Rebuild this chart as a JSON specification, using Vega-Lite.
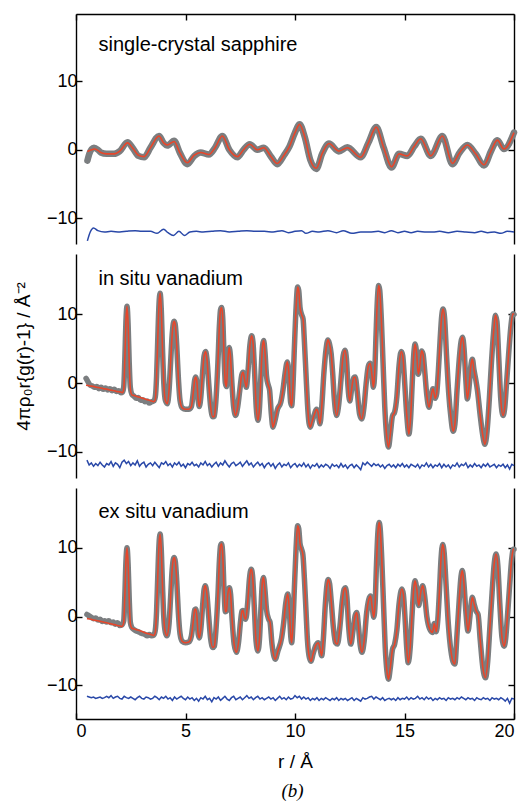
{
  "$schema": "https://vega.github.io/schema/vega-lite/v6.json",
  "padding": {"left": 13, "top": 13, "right": 5, "bottom": 0},
  "spacing": 10,
  "title": {"text": "(b)", "orient": "bottom", "font": "Liberation Serif", "fontSize": 19, "fontStyle": "italic", "fontWeight": "normal", "color": "black", "anchor": "middle", "offset": 11, "dx": 22},
  "config": {
    "view": {"stroke": null},
    "font": "Liberation Sans",
    "axis": {"domainColor": "black", "tickColor": "black", "domainWidth": 1.4, "tickWidth": 1.4, "grid": false, "labelFont": "Liberation Sans", "labelFontSize": 18, "labelColor": "black", "titleFont": "Liberation Sans", "titleFontSize": 19, "titleFontWeight": "normal", "titleColor": "black"}
  },
  "datasets": {
    "sap": [
      {"r":0.52,"obs":-1.6,"fit":-0.25},{"r":0.62,"obs":-0.5,"fit":-0.1},{"r":0.72,"obs":0.1,"fit":0.0},{"r":0.82,"obs":0.3,"fit":0.1},
      {"r":1.0,"obs":0.0,"fit":-0.1},{"r":1.13,"obs":-0.4,"fit":-0.4},{"r":1.4,"obs":-0.6,"fit":-0.6},{"r":1.74,"obs":-0.6,"fit":-0.6},
      {"r":2.0,"obs":-0.2,"fit":-0.2},{"r":2.35,"obs":1.1,"fit":1.0},{"r":2.6,"obs":0.2,"fit":0.2},{"r":2.85,"obs":-0.9,"fit":-0.8},
      {"r":3.11,"obs":-1.1,"fit":-1.0},{"r":3.4,"obs":0.3,"fit":0.3},{"r":3.79,"obs":2.0,"fit":2.0},{"r":4.0,"obs":1.0,"fit":1.0},
      {"r":4.17,"obs":0.6,"fit":0.7},{"r":4.48,"obs":1.3,"fit":1.2},{"r":4.75,"obs":-0.5,"fit":-0.5},{"r":5.08,"obs":-2.1,"fit":-1.9},
      {"r":5.4,"obs":-0.9,"fit":-0.8},{"r":5.69,"obs":-0.4,"fit":-0.4},{"r":6.07,"obs":-0.7,"fit":-0.7},{"r":6.35,"obs":0.3,"fit":0.3},
      {"r":6.68,"obs":2.0,"fit":2.0},{"r":7.0,"obs":0.0,"fit":0.0},{"r":7.37,"obs":-1.1,"fit":-1.0},{"r":7.65,"obs":0.0,"fit":0.0},
      {"r":7.93,"obs":0.8,"fit":0.8},{"r":8.28,"obs":0.0,"fit":0.0},{"r":8.58,"obs":0.3,"fit":0.3},{"r":8.9,"obs":-1.0,"fit":-1.0},
      {"r":9.19,"obs":-2.1,"fit":-2.0},{"r":9.5,"obs":-0.8,"fit":-0.8},{"r":9.75,"obs":0.5,"fit":0.5},{"r":10.0,"obs":2.5,"fit":2.5},
      {"r":10.21,"obs":3.7,"fit":3.7},{"r":10.45,"obs":1.8,"fit":1.8},{"r":10.7,"obs":-1.5,"fit":-1.5},{"r":10.97,"obs":-2.8,"fit":-2.7},
      {"r":11.25,"obs":-0.5,"fit":-0.5},{"r":11.55,"obs":0.9,"fit":0.9},{"r":12.0,"obs":-0.25,"fit":-0.2},{"r":12.39,"obs":0.35,"fit":0.3},
      {"r":13.0,"obs":-1.1,"fit":-1.1},{"r":13.35,"obs":1.0,"fit":1.0},{"r":13.71,"obs":3.3,"fit":3.3},{"r":14.05,"obs":0.3,"fit":0.3},
      {"r":14.41,"obs":-2.6,"fit":-2.5},{"r":14.75,"obs":-0.6,"fit":-0.6},{"r":15.13,"obs":-0.9,"fit":-0.9},{"r":15.45,"obs":0.5,"fit":0.5},
      {"r":15.74,"obs":1.6,"fit":1.6},{"r":16.2,"obs":-0.9,"fit":-0.9},{"r":16.73,"obs":2.0,"fit":2.0},{"r":17.19,"obs":-2.1,"fit":-2.0},
      {"r":17.5,"obs":-0.5,"fit":-0.5},{"r":17.87,"obs":0.7,"fit":0.7},{"r":18.25,"obs":-0.6,"fit":-0.6},{"r":18.63,"obs":-2.3,"fit":-2.2},
      {"r":18.95,"obs":-0.2,"fit":-0.2},{"r":19.24,"obs":1.4,"fit":1.4},{"r":19.54,"obs":0.1,"fit":0.1},{"r":20.0,"obs":2.5,"fit":2.5}
    ],
    "sapdiff": [
      {"r":0.52,"diff":-13.3},{"r":0.65,"diff":-12.0},{"r":0.8,"diff":-11.4},{"r":1.0,"diff":-11.8},{"r":1.3,"diff":-12.0},{"r":1.6,"diff":-11.9},
      {"r":2.0,"diff":-12.0},{"r":2.3,"diff":-11.9},{"r":2.7,"diff":-11.8},{"r":3.0,"diff":-11.9},{"r":3.4,"diff":-11.9},{"r":3.7,"diff":-12.2},
      {"r":4.0,"diff":-11.6},{"r":4.2,"diff":-12.1},{"r":4.45,"diff":-12.5},{"r":4.7,"diff":-11.9},{"r":4.95,"diff":-12.5},{"r":5.2,"diff":-12.0},
      {"r":5.5,"diff":-11.9},{"r":5.8,"diff":-12.0},{"r":6.2,"diff":-11.9},{"r":6.6,"diff":-11.8},{"r":7.0,"diff":-12.0},{"r":7.4,"diff":-11.9},
      {"r":7.8,"diff":-11.8},{"r":8.2,"diff":-11.9},{"r":8.6,"diff":-11.9},{"r":9.0,"diff":-12.0},{"r":9.4,"diff":-11.8},{"r":9.7,"diff":-12.1},
      {"r":10.0,"diff":-11.9},{"r":10.3,"diff":-11.8},{"r":10.5,"diff":-12.2},{"r":10.8,"diff":-11.9},{"r":11.1,"diff":-12.0},{"r":11.5,"diff":-11.8},
      {"r":11.9,"diff":-12.1},{"r":12.2,"diff":-11.8},{"r":12.6,"diff":-12.2},{"r":13.0,"diff":-12.0},{"r":13.4,"diff":-12.0},{"r":13.8,"diff":-11.9},
      {"r":14.1,"diff":-12.1},{"r":14.4,"diff":-11.8},{"r":14.7,"diff":-12.1},{"r":15.0,"diff":-11.9},{"r":15.3,"diff":-12.1},{"r":15.6,"diff":-11.9},
      {"r":16.0,"diff":-12.0},{"r":16.3,"diff":-12.0},{"r":16.6,"diff":-11.9},{"r":17.0,"diff":-12.1},{"r":17.4,"diff":-11.9},{"r":17.8,"diff":-12.0},
      {"r":18.2,"diff":-12.1},{"r":18.5,"diff":-11.9},{"r":18.8,"diff":-12.1},{"r":19.1,"diff":-12.0},{"r":19.4,"diff":-12.2},{"r":19.7,"diff":-11.9},{"r":20.0,"diff":-12.0}
    ],
    "insitu": [
      {"r":0.46,"obs":0.7,"fit":-0.3},{"r":0.55,"obs":0.2,"fit":-0.35},{"r":0.65,"obs":-0.3,"fit":-0.4},{"r":0.75,"obs":-0.4,"fit":-0.45},
      {"r":0.85,"obs":-0.6,"fit":-0.5},{"r":0.95,"obs":-0.5,"fit":-0.6},{"r":1.05,"obs":-0.8,"fit":-0.65},{"r":1.15,"obs":-0.6,"fit":-0.7},
      {"r":1.25,"obs":-0.9,"fit":-0.8},{"r":1.35,"obs":-0.7,"fit":-0.85},{"r":1.45,"obs":-1.0,"fit":-0.9},{"r":1.55,"obs":-0.8,"fit":-1.0},
      {"r":1.65,"obs":-1.1,"fit":-1.05},{"r":1.75,"obs":-0.9,"fit":-1.1},{"r":1.85,"obs":-1.2,"fit":-1.2},{"r":1.95,"obs":-1.1,"fit":-1.25},
      {"r":2.05,"obs":-1.4,"fit":-1.3},{"r":2.12,"obs":-1.3,"fit":-1.4},{"r":2.18,"obs":-0.5,"fit":-0.9},{"r":2.23,"obs":3.5,"fit":3.5},
      {"r":2.28,"obs":9.0,"fit":9.0},{"r":2.33,"obs":11.2,"fit":11.2},{"r":2.38,"obs":8.5,"fit":8.5},{"r":2.43,"obs":3.0,"fit":3.0},
      {"r":2.48,"obs":-0.6,"fit":-0.8},{"r":2.55,"obs":-1.6,"fit":-1.7},{"r":2.65,"obs":-1.9,"fit":-1.8},{"r":2.75,"obs":-2.2,"fit":-1.9},
      {"r":2.85,"obs":-2.1,"fit":-2.0},{"r":2.95,"obs":-2.5,"fit":-2.1},{"r":3.05,"obs":-2.4,"fit":-2.2},{"r":3.15,"obs":-2.7,"fit":-2.3},
      {"r":3.25,"obs":-2.6,"fit":-2.4},{"r":3.35,"obs":-2.9,"fit":-2.5},{"r":3.45,"obs":-2.7,"fit":-2.6},{"r":3.55,"obs":-2.6,"fit":-2.7},
      {"r":3.62,"obs":-2.0,"fit":-2.4},{"r":3.68,"obs":1.0,"fit":1.0},{"r":3.73,"obs":6.0,"fit":6.0},{"r":3.79,"obs":11.5,"fit":11.5},
      {"r":3.84,"obs":13.1,"fit":13.1},{"r":3.89,"obs":11.0,"fit":11.0},{"r":3.95,"obs":5.0,"fit":5.0},{"r":4.01,"obs":0.0,"fit":0.0},
      {"r":4.08,"obs":-2.5,"fit":-2.5},{"r":4.17,"obs":-3.0,"fit":-3.0},{"r":4.25,"obs":-1.0,"fit":-1.0},{"r":4.32,"obs":3.0,"fit":3.0},
      {"r":4.39,"obs":7.0,"fit":7.0},{"r":4.45,"obs":8.8,"fit":8.8},{"r":4.49,"obs":9.0,"fit":9.0},{"r":4.54,"obs":8.3,"fit":8.3},
      {"r":4.6,"obs":5.5,"fit":5.5},{"r":4.67,"obs":1.0,"fit":1.0},{"r":4.75,"obs":-2.5,"fit":-2.5},{"r":4.85,"obs":-3.6,"fit":-3.6},
      {"r":5.0,"obs":-3.8,"fit":-3.8},{"r":5.15,"obs":-3.8,"fit":-3.8},{"r":5.27,"obs":-3.4,"fit":-3.4},{"r":5.35,"obs":-1.5,"fit":-1.5},
      {"r":5.42,"obs":0.5,"fit":0.5},{"r":5.47,"obs":0.9,"fit":0.9},{"r":5.52,"obs":0.2,"fit":0.2},{"r":5.58,"obs":-2.5,"fit":-2.5},
      {"r":5.63,"obs":-3.4,"fit":-3.4},{"r":5.7,"obs":-2.0,"fit":-2.0},{"r":5.78,"obs":1.5,"fit":1.5},{"r":5.85,"obs":4.0,"fit":4.0},
      {"r":5.92,"obs":4.6,"fit":4.6},{"r":5.98,"obs":3.5,"fit":3.5},{"r":6.06,"obs":0.0,"fit":0.0},{"r":6.15,"obs":-3.5,"fit":-3.5},
      {"r":6.25,"obs":-4.9,"fit":-4.9},{"r":6.32,"obs":-4.8,"fit":-4.8},{"r":6.4,"obs":-2.0,"fit":-2.0},{"r":6.48,"obs":3.0,"fit":3.0},
      {"r":6.55,"obs":8.5,"fit":8.5},{"r":6.6,"obs":10.7,"fit":10.7},{"r":6.65,"obs":11.0,"fit":11.0},{"r":6.7,"obs":9.5,"fit":9.5},
      {"r":6.76,"obs":4.0,"fit":4.0},{"r":6.82,"obs":0.0,"fit":0.0},{"r":6.87,"obs":-0.5,"fit":-0.5},{"r":6.93,"obs":3.0,"fit":3.0},
      {"r":6.99,"obs":5.2,"fit":5.2},{"r":7.05,"obs":4.0,"fit":4.0},{"r":7.12,"obs":0.0,"fit":0.0},{"r":7.2,"obs":-3.5,"fit":-3.5},
      {"r":7.29,"obs":-4.7,"fit":-4.7},{"r":7.38,"obs":-3.5,"fit":-3.5},{"r":7.48,"obs":-1.0,"fit":-1.0},{"r":7.57,"obs":1.2,"fit":1.2},
      {"r":7.63,"obs":1.6,"fit":1.6},{"r":7.7,"obs":0.5,"fit":0.5},{"r":7.78,"obs":-0.6,"fit":-0.6},{"r":7.86,"obs":2.0,"fit":2.0},
      {"r":7.94,"obs":5.5,"fit":5.5},{"r":8.02,"obs":6.9,"fit":6.9},{"r":8.08,"obs":6.0,"fit":6.0},{"r":8.15,"obs":2.0,"fit":2.0},
      {"r":8.23,"obs":-3.5,"fit":-3.5},{"r":8.31,"obs":-5.4,"fit":-5.4},{"r":8.38,"obs":-3.5,"fit":-3.5},{"r":8.45,"obs":1.5,"fit":1.5},
      {"r":8.52,"obs":5.5,"fit":5.5},{"r":8.57,"obs":6.2,"fit":6.2},{"r":8.63,"obs":4.5,"fit":4.5},{"r":8.7,"obs":1.0,"fit":1.0},
      {"r":8.78,"obs":-0.3,"fit":-0.3},{"r":8.84,"obs":-1.0,"fit":-1.0},{"r":8.92,"obs":-4.5,"fit":-4.5},{"r":8.99,"obs":-6.4,"fit":-6.4},
      {"r":9.08,"obs":-5.5,"fit":-5.5},{"r":9.2,"obs":-3.8,"fit":-3.8},{"r":9.35,"obs":-2.8,"fit":-2.8},{"r":9.45,"obs":-1.0,"fit":-1.0},
      {"r":9.55,"obs":1.5,"fit":1.5},{"r":9.65,"obs":3.1,"fit":3.1},{"r":9.72,"obs":1.5,"fit":1.5},{"r":9.8,"obs":-2.8,"fit":-2.8},
      {"r":9.85,"obs":-3.3,"fit":-3.3},{"r":9.9,"obs":-1.0,"fit":-1.0},{"r":9.97,"obs":5.0,"fit":5.0},{"r":10.05,"obs":11.0,"fit":11.0},
      {"r":10.12,"obs":14.0,"fit":14.0},{"r":10.17,"obs":13.5,"fit":13.5},{"r":10.23,"obs":11.0,"fit":11.0},{"r":10.3,"obs":10.0,"fit":10.0},
      {"r":10.37,"obs":9.3,"fit":9.3},{"r":10.43,"obs":6.0,"fit":6.0},{"r":10.5,"obs":1.5,"fit":1.5},{"r":10.57,"obs":-3.0,"fit":-3.0},
      {"r":10.64,"obs":-5.8,"fit":-5.8},{"r":10.7,"obs":-6.4,"fit":-6.4},{"r":10.78,"obs":-5.6,"fit":-5.6},{"r":10.9,"obs":-4.4,"fit":-4.4},
      {"r":10.98,"obs":-3.8,"fit":-3.8},{"r":11.05,"obs":-4.2,"fit":-4.2},{"r":11.14,"obs":-5.9,"fit":-5.9},{"r":11.22,"obs":-3.5,"fit":-3.5},
      {"r":11.32,"obs":1.5,"fit":1.5},{"r":11.42,"obs":5.0,"fit":5.0},{"r":11.5,"obs":6.3,"fit":6.3},{"r":11.57,"obs":5.8,"fit":5.8},
      {"r":11.65,"obs":4.3,"fit":4.3},{"r":11.72,"obs":1.5,"fit":1.5},{"r":11.8,"obs":-2.5,"fit":-2.5},{"r":11.9,"obs":-4.7,"fit":-4.7},
      {"r":12.0,"obs":-3.0,"fit":-3.0},{"r":12.1,"obs":0.5,"fit":0.5},{"r":12.2,"obs":4.0,"fit":4.0},{"r":12.28,"obs":4.8,"fit":4.8},
      {"r":12.35,"obs":3.5,"fit":3.5},{"r":12.42,"obs":-0.5,"fit":-0.5},{"r":12.5,"obs":-2.6,"fit":-2.6},{"r":12.58,"obs":-1.0,"fit":-1.0},
      {"r":12.68,"obs":0.8,"fit":0.8},{"r":12.75,"obs":0.9,"fit":0.9},{"r":12.85,"obs":-1.5,"fit":-1.5},{"r":12.95,"obs":-4.5,"fit":-4.5},
      {"r":13.05,"obs":-5.2,"fit":-5.2},{"r":13.15,"obs":-3.5,"fit":-3.5},{"r":13.25,"obs":0.0,"fit":0.0},{"r":13.35,"obs":2.5,"fit":2.5},
      {"r":13.43,"obs":2.9,"fit":2.9},{"r":13.52,"obs":1.0,"fit":1.0},{"r":13.58,"obs":-0.6,"fit":-0.6},{"r":13.64,"obs":1.5,"fit":1.5},
      {"r":13.7,"obs":7.0,"fit":7.0},{"r":13.76,"obs":12.0,"fit":12.0},{"r":13.82,"obs":14.2,"fit":14.2},{"r":13.87,"obs":13.5,"fit":13.5},
      {"r":13.94,"obs":9.5,"fit":9.5},{"r":14.02,"obs":3.0,"fit":3.0},{"r":14.1,"obs":-3.5,"fit":-3.5},{"r":14.18,"obs":-7.5,"fit":-7.5},
      {"r":14.27,"obs":-9.3,"fit":-9.3},{"r":14.35,"obs":-7.5,"fit":-7.5},{"r":14.45,"obs":-4.8,"fit":-4.8},{"r":14.55,"obs":-4.2,"fit":-4.2},
      {"r":14.65,"obs":-2.0,"fit":-2.0},{"r":14.75,"obs":2.5,"fit":2.5},{"r":14.85,"obs":4.6,"fit":4.6},{"r":14.92,"obs":4.0,"fit":4.0},
      {"r":15.0,"obs":0.5,"fit":0.5},{"r":15.1,"obs":-4.5,"fit":-4.5},{"r":15.2,"obs":-7.4,"fit":-7.4},{"r":15.28,"obs":-5.0,"fit":-5.0},
      {"r":15.36,"obs":0.5,"fit":0.5},{"r":15.43,"obs":4.5,"fit":4.5},{"r":15.48,"obs":5.7,"fit":5.7},{"r":15.55,"obs":4.5,"fit":4.5},
      {"r":15.63,"obs":1.3,"fit":1.3},{"r":15.7,"obs":2.5,"fit":2.5},{"r":15.78,"obs":4.7,"fit":4.7},{"r":15.85,"obs":4.2,"fit":4.2},
      {"r":15.93,"obs":1.5,"fit":1.5},{"r":16.02,"obs":-1.8,"fit":-1.8},{"r":16.12,"obs":-3.5,"fit":-3.5},{"r":16.22,"obs":-1.8,"fit":-1.8},
      {"r":16.3,"obs":-0.8,"fit":-0.8},{"r":16.4,"obs":-2.2,"fit":-2.2},{"r":16.47,"obs":-1.5,"fit":-1.5},{"r":16.55,"obs":2.0,"fit":2.0},
      {"r":16.63,"obs":6.5,"fit":6.5},{"r":16.7,"obs":9.8,"fit":9.8},{"r":16.76,"obs":10.8,"fit":10.8},{"r":16.83,"obs":9.5,"fit":9.5},
      {"r":16.92,"obs":4.0,"fit":4.0},{"r":17.02,"obs":-1.5,"fit":-1.5},{"r":17.12,"obs":-5.0,"fit":-5.0},{"r":17.22,"obs":-7.0,"fit":-7.0},
      {"r":17.3,"obs":-6.0,"fit":-6.0},{"r":17.4,"obs":-1.0,"fit":-1.0},{"r":17.5,"obs":3.5,"fit":3.5},{"r":17.58,"obs":6.0,"fit":6.0},
      {"r":17.65,"obs":6.7,"fit":6.7},{"r":17.72,"obs":5.0,"fit":5.0},{"r":17.8,"obs":0.5,"fit":0.5},{"r":17.87,"obs":-2.3,"fit":-2.3},
      {"r":17.95,"obs":-0.5,"fit":-0.5},{"r":18.03,"obs":2.5,"fit":2.5},{"r":18.1,"obs":3.5,"fit":3.5},{"r":18.17,"obs":2.0,"fit":2.0},
      {"r":18.25,"obs":0.6,"fit":0.6},{"r":18.33,"obs":-1.0,"fit":-1.0},{"r":18.45,"obs":-4.5,"fit":-4.5},{"r":18.57,"obs":-7.5,"fit":-7.5},
      {"r":18.67,"obs":-8.9,"fit":-8.9},{"r":18.77,"obs":-7.0,"fit":-7.0},{"r":18.87,"obs":-2.5,"fit":-2.5},{"r":18.97,"obs":3.0,"fit":3.0},
      {"r":19.07,"obs":7.5,"fit":7.5},{"r":19.15,"obs":9.9,"fit":9.9},{"r":19.22,"obs":9.0,"fit":9.0},{"r":19.3,"obs":4.0,"fit":4.0},
      {"r":19.4,"obs":-2.5,"fit":-2.5},{"r":19.5,"obs":-4.7,"fit":-4.7},{"r":19.58,"obs":-3.5,"fit":-3.5},{"r":19.66,"obs":0.0,"fit":0.0},
      {"r":19.75,"obs":4.0,"fit":4.0},{"r":19.85,"obs":8.0,"fit":8.0},{"r":19.95,"obs":10.1,"fit":10.1},{"r":20.0,"obs":10.0,"fit":10.0}
    ],
    "insitudiff": [
      {"r":0.5,"diff":-11.2},{"r":0.6,"diff":-11.9},{"r":0.7,"diff":-11.6},{"r":0.8,"diff":-12.1},{"r":0.9,"diff":-11.7},{"r":1.0,"diff":-12.0},{"r":1.1,"diff":-11.5},{"r":1.2,"diff":-11.9},{"r":1.3,"diff":-12.2},{"r":1.4,"diff":-11.7},
      {"r":1.5,"diff":-11.9},{"r":1.6,"diff":-11.4},{"r":1.7,"diff":-12.1},{"r":1.8,"diff":-11.6},{"r":1.9,"diff":-11.8},{"r":2.0,"diff":-12.3},{"r":2.1,"diff":-11.5},{"r":2.2,"diff":-11.2},{"r":2.3,"diff":-11.7},{"r":2.4,"diff":-11.4},
      {"r":2.5,"diff":-12.0},{"r":2.6,"diff":-11.6},{"r":2.7,"diff":-11.9},{"r":2.8,"diff":-11.3},{"r":2.9,"diff":-12.1},{"r":3.0,"diff":-11.7},{"r":3.1,"diff":-11.5},{"r":3.2,"diff":-12.2},{"r":3.3,"diff":-11.8},{"r":3.4,"diff":-11.6},
      {"r":3.5,"diff":-12.0},{"r":3.6,"diff":-11.5},{"r":3.7,"diff":-11.9},{"r":3.8,"diff":-12.3},{"r":3.9,"diff":-11.6},{"r":4.0,"diff":-11.8},{"r":4.1,"diff":-11.4},{"r":4.2,"diff":-12.0},{"r":4.3,"diff":-11.7},{"r":4.4,"diff":-12.2},
      {"r":4.5,"diff":-11.6},{"r":4.6,"diff":-11.9},{"r":4.7,"diff":-11.5},{"r":4.8,"diff":-12.1},{"r":4.9,"diff":-11.8},{"r":5.0,"diff":-12.3},{"r":5.1,"diff":-11.7},{"r":5.2,"diff":-11.9},{"r":5.3,"diff":-11.5},{"r":5.4,"diff":-12.0},
      {"r":5.5,"diff":-11.8},{"r":5.6,"diff":-12.2},{"r":5.7,"diff":-11.6},{"r":5.8,"diff":-11.9},{"r":5.9,"diff":-11.4},{"r":6.0,"diff":-12.0},{"r":6.1,"diff":-11.7},{"r":6.2,"diff":-12.2},{"r":6.3,"diff":-11.8},{"r":6.4,"diff":-11.5},
      {"r":6.5,"diff":-12.1},{"r":6.6,"diff":-11.6},{"r":6.7,"diff":-11.9},{"r":6.8,"diff":-11.3},{"r":6.9,"diff":-11.8},{"r":7.0,"diff":-12.2},{"r":7.1,"diff":-11.7},{"r":7.2,"diff":-11.5},{"r":7.3,"diff":-12.0},{"r":7.4,"diff":-11.8},
      {"r":7.5,"diff":-11.5},{"r":7.6,"diff":-12.1},{"r":7.7,"diff":-11.7},{"r":7.8,"diff":-11.3},{"r":7.9,"diff":-11.9},{"r":8.0,"diff":-11.6},{"r":8.1,"diff":-12.2},{"r":8.2,"diff":-11.8},{"r":8.3,"diff":-11.5},{"r":8.4,"diff":-12.0},
      {"r":8.5,"diff":-11.7},{"r":8.6,"diff":-12.3},{"r":8.7,"diff":-11.8},{"r":8.8,"diff":-11.6},{"r":8.9,"diff":-12.1},{"r":9.0,"diff":-11.7},{"r":9.1,"diff":-12.4},{"r":9.2,"diff":-11.9},{"r":9.3,"diff":-11.6},{"r":9.4,"diff":-12.2},
      {"r":9.5,"diff":-11.8},{"r":9.6,"diff":-12.0},{"r":9.7,"diff":-11.6},{"r":9.8,"diff":-12.3},{"r":9.9,"diff":-11.9},{"r":10.0,"diff":-11.7},{"r":10.1,"diff":-12.2},{"r":10.2,"diff":-11.8},{"r":10.3,"diff":-12.1},{"r":10.4,"diff":-11.6},
      {"r":10.5,"diff":-12.2},{"r":10.6,"diff":-11.8},{"r":10.7,"diff":-12.4},{"r":10.8,"diff":-11.9},{"r":10.9,"diff":-12.1},{"r":11.0,"diff":-11.7},{"r":11.1,"diff":-12.3},{"r":11.2,"diff":-11.9},{"r":11.3,"diff":-12.2},{"r":11.4,"diff":-11.8},
      {"r":11.5,"diff":-12.0},{"r":11.6,"diff":-12.4},{"r":11.7,"diff":-11.8},{"r":11.8,"diff":-12.1},{"r":11.9,"diff":-11.9},{"r":12.0,"diff":-12.3},{"r":12.1,"diff":-11.7},{"r":12.2,"diff":-12.2},{"r":12.3,"diff":-11.9},{"r":12.4,"diff":-12.4},
      {"r":12.5,"diff":-12.0},{"r":12.6,"diff":-11.8},{"r":12.7,"diff":-12.3},{"r":12.8,"diff":-11.9},{"r":12.9,"diff":-12.2},{"r":13.0,"diff":-12.6},{"r":13.1,"diff":-11.6},{"r":13.2,"diff":-11.9},{"r":13.3,"diff":-11.5},{"r":13.4,"diff":-11.8},
      {"r":13.5,"diff":-12.1},{"r":13.6,"diff":-11.7},{"r":13.7,"diff":-12.0},{"r":13.8,"diff":-11.8},{"r":13.9,"diff":-12.2},{"r":14.0,"diff":-11.9},{"r":14.1,"diff":-12.4},{"r":14.2,"diff":-12.0},{"r":14.3,"diff":-11.8},{"r":14.4,"diff":-12.2},
      {"r":14.5,"diff":-11.9},{"r":14.6,"diff":-12.3},{"r":14.7,"diff":-11.8},{"r":14.8,"diff":-12.1},{"r":14.9,"diff":-11.7},{"r":15.0,"diff":-12.2},{"r":15.1,"diff":-11.9},{"r":15.2,"diff":-12.3},{"r":15.3,"diff":-11.8},{"r":15.4,"diff":-12.0},
      {"r":15.5,"diff":-12.2},{"r":15.6,"diff":-11.8},{"r":15.7,"diff":-12.4},{"r":15.8,"diff":-11.9},{"r":15.9,"diff":-12.1},{"r":16.0,"diff":-11.6},{"r":16.1,"diff":-12.2},{"r":16.2,"diff":-11.8},{"r":16.3,"diff":-12.3},{"r":16.4,"diff":-11.9},
      {"r":16.5,"diff":-12.1},{"r":16.6,"diff":-11.7},{"r":16.7,"diff":-12.3},{"r":16.8,"diff":-11.8},{"r":16.9,"diff":-12.2},{"r":17.0,"diff":-11.9},{"r":17.1,"diff":-12.4},{"r":17.2,"diff":-11.9},{"r":17.3,"diff":-12.1},{"r":17.4,"diff":-11.6},
      {"r":17.5,"diff":-12.2},{"r":17.6,"diff":-11.8},{"r":17.7,"diff":-12.0},{"r":17.8,"diff":-11.6},{"r":17.9,"diff":-12.3},{"r":18.0,"diff":-11.9},{"r":18.1,"diff":-12.2},{"r":18.2,"diff":-11.7},{"r":18.3,"diff":-12.1},{"r":18.4,"diff":-11.9},
      {"r":18.5,"diff":-12.3},{"r":18.6,"diff":-11.8},{"r":18.7,"diff":-12.1},{"r":18.8,"diff":-11.7},{"r":18.9,"diff":-12.2},{"r":19.0,"diff":-12.0},{"r":19.1,"diff":-11.8},{"r":19.2,"diff":-12.3},{"r":19.3,"diff":-11.9},{"r":19.4,"diff":-12.1},
      {"r":19.5,"diff":-11.8},{"r":19.6,"diff":-12.3},{"r":19.7,"diff":-11.9},{"r":19.8,"diff":-12.5},{"r":19.9,"diff":-11.8},{"r":20.0,"diff":-12.0}
    ],
    "exsitu": [
      {"r":0.5,"obs":0.3,"fit":-0.3},{"r":0.6,"obs":0.1,"fit":-0.35},{"r":0.7,"obs":-0.1,"fit":-0.4},{"r":0.8,"obs":-0.3,"fit":-0.5},
      {"r":0.9,"obs":-0.2,"fit":-0.55},{"r":1.0,"obs":-0.5,"fit":-0.6},{"r":1.1,"obs":-0.4,"fit":-0.7},{"r":1.2,"obs":-0.7,"fit":-0.75},
      {"r":1.3,"obs":-0.6,"fit":-0.85},{"r":1.4,"obs":-0.8,"fit":-0.9},{"r":1.5,"obs":-0.6,"fit":-1.0},{"r":1.6,"obs":-0.9,"fit":-1.05},
      {"r":1.7,"obs":-0.8,"fit":-1.15},{"r":1.8,"obs":-1.1,"fit":-1.2},{"r":1.9,"obs":-0.9,"fit":-1.3},{"r":2.0,"obs":-1.3,"fit":-1.35},
      {"r":2.1,"obs":-1.2,"fit":-1.45},{"r":2.18,"obs":-0.6,"fit":-0.8},{"r":2.23,"obs":3.0,"fit":3.0},{"r":2.28,"obs":8.0,"fit":8.0},
      {"r":2.33,"obs":10.0,"fit":10.0},{"r":2.38,"obs":7.6,"fit":7.6},{"r":2.43,"obs":2.6,"fit":2.6},{"r":2.48,"obs":-0.8,"fit":-1.0},
      {"r":2.55,"obs":-1.6,"fit":-1.7},{"r":2.65,"obs":-1.9,"fit":-1.8},{"r":2.75,"obs":-2.1,"fit":-1.9},{"r":2.85,"obs":-2.2,"fit":-2.0},
      {"r":2.95,"obs":-2.4,"fit":-2.1},{"r":3.05,"obs":-2.5,"fit":-2.2},{"r":3.15,"obs":-2.6,"fit":-2.35},{"r":3.25,"obs":-2.8,"fit":-2.45},
      {"r":3.35,"obs":-2.6,"fit":-2.55},{"r":3.45,"obs":-2.8,"fit":-2.65},{"r":3.55,"obs":-2.7,"fit":-2.75},{"r":3.62,"obs":-2.0,"fit":-2.3},
      {"r":3.68,"obs":0.8,"fit":0.8},{"r":3.73,"obs":5.5,"fit":5.5},{"r":3.79,"obs":10.5,"fit":10.5},{"r":3.84,"obs":12.0,"fit":12.0},
      {"r":3.89,"obs":10.0,"fit":10.0},{"r":3.95,"obs":4.5,"fit":4.5},{"r":4.01,"obs":-0.2,"fit":-0.2},{"r":4.08,"obs":-2.3,"fit":-2.3},
      {"r":4.15,"obs":-2.8,"fit":-2.8},{"r":4.25,"obs":-1.0,"fit":-1.0},{"r":4.32,"obs":2.8,"fit":2.8},{"r":4.39,"obs":6.8,"fit":6.8},
      {"r":4.45,"obs":8.4,"fit":8.4},{"r":4.49,"obs":8.6,"fit":8.6},{"r":4.54,"obs":7.9,"fit":7.9},{"r":4.6,"obs":5.2,"fit":5.2},
      {"r":4.67,"obs":0.8,"fit":0.8},{"r":4.75,"obs":-2.5,"fit":-2.5},{"r":4.85,"obs":-3.6,"fit":-3.6},{"r":5.0,"obs":-3.8,"fit":-3.8},
      {"r":5.15,"obs":-3.7,"fit":-3.7},{"r":5.27,"obs":-2.8,"fit":-2.8},{"r":5.35,"obs":-0.8,"fit":-0.8},{"r":5.42,"obs":1.0,"fit":1.0},
      {"r":5.47,"obs":1.1,"fit":1.1},{"r":5.52,"obs":0.0,"fit":0.0},{"r":5.58,"obs":-2.6,"fit":-2.6},{"r":5.63,"obs":-3.1,"fit":-3.1},
      {"r":5.7,"obs":-1.8,"fit":-1.8},{"r":5.78,"obs":1.5,"fit":1.5},{"r":5.85,"obs":4.0,"fit":4.0},{"r":5.9,"obs":4.5,"fit":4.5},
      {"r":5.97,"obs":3.5,"fit":3.5},{"r":6.06,"obs":0.0,"fit":0.0},{"r":6.15,"obs":-3.3,"fit":-3.3},{"r":6.25,"obs":-4.5,"fit":-4.5},
      {"r":6.32,"obs":-4.3,"fit":-4.3},{"r":6.4,"obs":-1.5,"fit":-1.5},{"r":6.48,"obs":3.0,"fit":3.0},{"r":6.55,"obs":8.2,"fit":8.2},
      {"r":6.6,"obs":10.3,"fit":10.3},{"r":6.65,"obs":10.6,"fit":10.6},{"r":6.7,"obs":9.0,"fit":9.0},{"r":6.76,"obs":3.8,"fit":3.8},
      {"r":6.82,"obs":0.7,"fit":0.7},{"r":6.87,"obs":0.8,"fit":0.8},{"r":6.93,"obs":3.2,"fit":3.2},{"r":7.0,"obs":4.2,"fit":4.2},
      {"r":7.06,"obs":3.2,"fit":3.2},{"r":7.13,"obs":-0.5,"fit":-0.5},{"r":7.22,"obs":-4.0,"fit":-4.0},{"r":7.33,"obs":-5.2,"fit":-5.2},
      {"r":7.42,"obs":-3.8,"fit":-3.8},{"r":7.52,"obs":-0.5,"fit":-0.5},{"r":7.58,"obs":0.8,"fit":0.8},{"r":7.62,"obs":0.9,"fit":0.9},
      {"r":7.68,"obs":0.0,"fit":0.0},{"r":7.75,"obs":-0.4,"fit":-0.4},{"r":7.84,"obs":2.0,"fit":2.0},{"r":7.92,"obs":5.5,"fit":5.5},
      {"r":8.0,"obs":6.9,"fit":6.9},{"r":8.06,"obs":6.0,"fit":6.0},{"r":8.14,"obs":1.5,"fit":1.5},{"r":8.22,"obs":-3.5,"fit":-3.5},
      {"r":8.31,"obs":-5.0,"fit":-5.0},{"r":8.38,"obs":-3.2,"fit":-3.2},{"r":8.45,"obs":1.5,"fit":1.5},{"r":8.51,"obs":5.0,"fit":5.0},
      {"r":8.56,"obs":5.7,"fit":5.7},{"r":8.62,"obs":4.2,"fit":4.2},{"r":8.7,"obs":1.0,"fit":1.0},{"r":8.8,"obs":-0.4,"fit":-0.4},
      {"r":8.86,"obs":-0.8,"fit":-0.8},{"r":8.95,"obs":-4.0,"fit":-4.0},{"r":9.1,"obs":-6.2,"fit":-6.2},{"r":9.22,"obs":-5.0,"fit":-5.0},
      {"r":9.39,"obs":-3.1,"fit":-3.1},{"r":9.48,"obs":-1.0,"fit":-1.0},{"r":9.58,"obs":2.0,"fit":2.0},{"r":9.67,"obs":3.3,"fit":3.3},
      {"r":9.74,"obs":1.0,"fit":1.0},{"r":9.81,"obs":-3.0,"fit":-3.0},{"r":9.85,"obs":-3.8,"fit":-3.8},{"r":9.9,"obs":-1.5,"fit":-1.5},
      {"r":9.97,"obs":4.0,"fit":4.0},{"r":10.05,"obs":10.0,"fit":10.0},{"r":10.12,"obs":13.2,"fit":13.2},{"r":10.17,"obs":12.8,"fit":12.8},
      {"r":10.23,"obs":10.6,"fit":10.6},{"r":10.3,"obs":9.8,"fit":9.8},{"r":10.36,"obs":9.0,"fit":9.0},{"r":10.43,"obs":5.5,"fit":5.5},
      {"r":10.5,"obs":1.0,"fit":1.0},{"r":10.57,"obs":-3.5,"fit":-3.5},{"r":10.66,"obs":-6.0,"fit":-6.0},{"r":10.74,"obs":-6.5,"fit":-6.5},
      {"r":10.82,"obs":-5.5,"fit":-5.5},{"r":10.95,"obs":-4.2,"fit":-4.2},{"r":11.06,"obs":-3.8,"fit":-3.8},{"r":11.14,"obs":-4.6,"fit":-4.6},
      {"r":11.22,"obs":-5.7,"fit":-5.7},{"r":11.3,"obs":-3.0,"fit":-3.0},{"r":11.38,"obs":1.5,"fit":1.5},{"r":11.46,"obs":4.6,"fit":4.6},
      {"r":11.52,"obs":5.4,"fit":5.4},{"r":11.58,"obs":4.8,"fit":4.8},{"r":11.66,"obs":2.0,"fit":2.0},{"r":11.75,"obs":-1.5,"fit":-1.5},
      {"r":11.85,"obs":-3.8,"fit":-3.8},{"r":11.94,"obs":-4.0,"fit":-4.0},{"r":12.05,"obs":-1.5,"fit":-1.5},{"r":12.15,"obs":2.0,"fit":2.0},
      {"r":12.24,"obs":4.0,"fit":4.0},{"r":12.3,"obs":4.2,"fit":4.2},{"r":12.37,"obs":2.8,"fit":2.8},{"r":12.45,"obs":-1.5,"fit":-1.5},
      {"r":12.55,"obs":-4.0,"fit":-4.0},{"r":12.65,"obs":-2.0,"fit":-2.0},{"r":12.75,"obs":0.2,"fit":0.2},{"r":12.82,"obs":0.6,"fit":0.6},
      {"r":12.9,"obs":-1.5,"fit":-1.5},{"r":12.98,"obs":-4.2,"fit":-4.2},{"r":13.06,"obs":-5.2,"fit":-5.2},{"r":13.16,"obs":-3.5,"fit":-3.5},
      {"r":13.27,"obs":0.5,"fit":0.5},{"r":13.37,"obs":2.5,"fit":2.5},{"r":13.45,"obs":3.0,"fit":3.0},{"r":13.53,"obs":1.2,"fit":1.2},
      {"r":13.6,"obs":-0.1,"fit":-0.1},{"r":13.66,"obs":2.0,"fit":2.0},{"r":13.72,"obs":7.5,"fit":7.5},{"r":13.78,"obs":12.0,"fit":12.0},
      {"r":13.84,"obs":13.7,"fit":13.7},{"r":13.89,"obs":12.8,"fit":12.8},{"r":13.96,"obs":8.5,"fit":8.5},{"r":14.04,"obs":2.0,"fit":2.0},
      {"r":14.12,"obs":-4.5,"fit":-4.5},{"r":14.2,"obs":-8.0,"fit":-8.0},{"r":14.27,"obs":-9.1,"fit":-9.1},{"r":14.35,"obs":-7.5,"fit":-7.5},
      {"r":14.45,"obs":-4.8,"fit":-4.8},{"r":14.55,"obs":-4.0,"fit":-4.0},{"r":14.65,"obs":-2.0,"fit":-2.0},{"r":14.75,"obs":1.8,"fit":1.8},
      {"r":14.88,"obs":4.0,"fit":4.0},{"r":14.95,"obs":3.2,"fit":3.2},{"r":15.03,"obs":-0.5,"fit":-0.5},{"r":15.1,"obs":-4.5,"fit":-4.5},
      {"r":15.17,"obs":-6.7,"fit":-6.7},{"r":15.26,"obs":-4.5,"fit":-4.5},{"r":15.35,"obs":0.5,"fit":0.5},{"r":15.42,"obs":4.0,"fit":4.0},
      {"r":15.48,"obs":5.2,"fit":5.2},{"r":15.56,"obs":4.0,"fit":4.0},{"r":15.65,"obs":1.6,"fit":1.6},{"r":15.74,"obs":3.5,"fit":3.5},
      {"r":15.83,"obs":4.5,"fit":4.5},{"r":15.92,"obs":3.0,"fit":3.0},{"r":16.02,"obs":0.0,"fit":0.0},{"r":16.15,"obs":-1.8,"fit":-1.8},
      {"r":16.28,"obs":-2.3,"fit":-2.3},{"r":16.36,"obs":-1.0,"fit":-1.0},{"r":16.45,"obs":-2.2,"fit":-2.2},{"r":16.52,"obs":-0.5,"fit":-0.5},
      {"r":16.6,"obs":4.0,"fit":4.0},{"r":16.67,"obs":8.5,"fit":8.5},{"r":16.74,"obs":10.5,"fit":10.5},{"r":16.81,"obs":9.3,"fit":9.3},
      {"r":16.9,"obs":4.5,"fit":4.5},{"r":17.0,"obs":-1.0,"fit":-1.0},{"r":17.12,"obs":-5.0,"fit":-5.0},{"r":17.22,"obs":-6.6,"fit":-6.6},
      {"r":17.3,"obs":-6.9,"fit":-6.9},{"r":17.4,"obs":-2.5,"fit":-2.5},{"r":17.5,"obs":2.5,"fit":2.5},{"r":17.58,"obs":5.8,"fit":5.8},
      {"r":17.64,"obs":6.7,"fit":6.7},{"r":17.71,"obs":5.0,"fit":5.0},{"r":17.8,"obs":0.8,"fit":0.8},{"r":17.9,"obs":-2.1,"fit":-2.1},
      {"r":17.98,"obs":-0.2,"fit":-0.2},{"r":18.05,"obs":2.0,"fit":2.0},{"r":18.1,"obs":2.8,"fit":2.8},{"r":18.18,"obs":1.8,"fit":1.8},
      {"r":18.27,"obs":0.8,"fit":0.8},{"r":18.36,"obs":0.3,"fit":0.3},{"r":18.46,"obs":-3.5,"fit":-3.5},{"r":18.58,"obs":-7.5,"fit":-7.5},
      {"r":18.7,"obs":-8.9,"fit":-8.9},{"r":18.8,"obs":-6.5,"fit":-6.5},{"r":18.9,"obs":-1.5,"fit":-1.5},{"r":19.0,"obs":3.5,"fit":3.5},
      {"r":19.1,"obs":7.8,"fit":7.8},{"r":19.18,"obs":9.1,"fit":9.1},{"r":19.26,"obs":7.5,"fit":7.5},{"r":19.35,"obs":2.0,"fit":2.0},
      {"r":19.45,"obs":-3.0,"fit":-3.0},{"r":19.55,"obs":-4.3,"fit":-4.3},{"r":19.62,"obs":-3.2,"fit":-3.2},{"r":19.7,"obs":0.0,"fit":0.0},
      {"r":19.8,"obs":4.5,"fit":4.5},{"r":19.9,"obs":8.5,"fit":8.5},{"r":19.97,"obs":9.8,"fit":9.8},{"r":20.0,"obs":9.8,"fit":9.8}
    ],
    "exsitudiff": [
      {"r":0.5,"diff":-11.6},{"r":0.6,"diff":-11.7},{"r":0.7,"diff":-11.8},{"r":0.8,"diff":-11.7},{"r":0.9,"diff":-11.9},{"r":1.0,"diff":-11.8},{"r":1.1,"diff":-11.7},{"r":1.2,"diff":-11.9},{"r":1.3,"diff":-11.8},{"r":1.4,"diff":-11.6},
      {"r":1.5,"diff":-11.8},{"r":1.6,"diff":-11.5},{"r":1.7,"diff":-11.9},{"r":1.8,"diff":-11.7},{"r":1.9,"diff":-11.6},{"r":2.0,"diff":-11.9},{"r":2.1,"diff":-12.0},{"r":2.2,"diff":-11.6},{"r":2.3,"diff":-11.8},{"r":2.4,"diff":-11.9},
      {"r":2.5,"diff":-11.7},{"r":2.6,"diff":-11.9},{"r":2.7,"diff":-12.1},{"r":2.8,"diff":-11.8},{"r":2.9,"diff":-11.6},{"r":3.0,"diff":-11.9},{"r":3.1,"diff":-12.0},{"r":3.2,"diff":-11.7},{"r":3.3,"diff":-11.8},{"r":3.4,"diff":-12.0},
      {"r":3.5,"diff":-11.9},{"r":3.6,"diff":-11.6},{"r":3.7,"diff":-11.8},{"r":3.8,"diff":-12.1},{"r":3.9,"diff":-11.7},{"r":4.0,"diff":-11.9},{"r":4.1,"diff":-11.6},{"r":4.2,"diff":-12.0},{"r":4.3,"diff":-11.8},{"r":4.4,"diff":-12.2},
      {"r":4.5,"diff":-11.7},{"r":4.6,"diff":-12.0},{"r":4.7,"diff":-11.8},{"r":4.8,"diff":-11.6},{"r":4.9,"diff":-11.9},{"r":5.0,"diff":-12.1},{"r":5.1,"diff":-11.7},{"r":5.2,"diff":-12.0},{"r":5.3,"diff":-11.8},{"r":5.4,"diff":-12.2},
      {"r":5.5,"diff":-11.9},{"r":5.6,"diff":-12.3},{"r":5.7,"diff":-11.8},{"r":5.8,"diff":-12.0},{"r":5.9,"diff":-11.6},{"r":6.0,"diff":-12.1},{"r":6.1,"diff":-11.9},{"r":6.2,"diff":-12.4},{"r":6.3,"diff":-11.8},{"r":6.4,"diff":-12.0},
      {"r":6.5,"diff":-11.7},{"r":6.6,"diff":-12.2},{"r":6.7,"diff":-11.9},{"r":6.8,"diff":-11.6},{"r":6.9,"diff":-12.0},{"r":7.0,"diff":-12.2},{"r":7.1,"diff":-11.8},{"r":7.2,"diff":-11.6},{"r":7.3,"diff":-12.1},{"r":7.4,"diff":-11.9},
      {"r":7.5,"diff":-11.7},{"r":7.6,"diff":-12.1},{"r":7.7,"diff":-11.8},{"r":7.8,"diff":-11.5},{"r":7.9,"diff":-11.9},{"r":8.0,"diff":-11.7},{"r":8.1,"diff":-12.1},{"r":8.2,"diff":-11.8},{"r":8.3,"diff":-11.6},{"r":8.4,"diff":-12.0},
      {"r":8.5,"diff":-11.8},{"r":8.6,"diff":-12.1},{"r":8.7,"diff":-11.9},{"r":8.8,"diff":-11.7},{"r":8.9,"diff":-12.0},{"r":9.0,"diff":-11.8},{"r":9.1,"diff":-12.2},{"r":9.2,"diff":-11.9},{"r":9.3,"diff":-11.6},{"r":9.4,"diff":-12.0},
      {"r":9.5,"diff":-11.8},{"r":9.6,"diff":-12.1},{"r":9.7,"diff":-11.7},{"r":9.8,"diff":-12.0},{"r":9.9,"diff":-11.9},{"r":10.0,"diff":-11.5},{"r":10.1,"diff":-11.8},{"r":10.2,"diff":-11.6},{"r":10.3,"diff":-12.0},{"r":10.4,"diff":-11.7},
      {"r":10.5,"diff":-12.0},{"r":10.6,"diff":-11.8},{"r":10.7,"diff":-12.2},{"r":10.8,"diff":-11.9},{"r":10.9,"diff":-12.1},{"r":11.0,"diff":-11.8},{"r":11.1,"diff":-12.2},{"r":11.2,"diff":-11.9},{"r":11.3,"diff":-12.1},{"r":11.4,"diff":-11.8},
      {"r":11.5,"diff":-12.0},{"r":11.6,"diff":-12.2},{"r":11.7,"diff":-11.9},{"r":11.8,"diff":-12.1},{"r":11.9,"diff":-11.8},{"r":12.0,"diff":-12.2},{"r":12.1,"diff":-11.9},{"r":12.2,"diff":-12.1},{"r":12.3,"diff":-11.9},{"r":12.4,"diff":-12.2},
      {"r":12.5,"diff":-12.0},{"r":12.6,"diff":-11.8},{"r":12.7,"diff":-12.2},{"r":12.8,"diff":-11.9},{"r":12.9,"diff":-12.1},{"r":13.0,"diff":-12.3},{"r":13.1,"diff":-11.8},{"r":13.2,"diff":-12.0},{"r":13.3,"diff":-11.9},{"r":13.4,"diff":-11.7},
      {"r":13.5,"diff":-11.6},{"r":13.6,"diff":-12.0},{"r":13.7,"diff":-11.7},{"r":13.8,"diff":-11.9},{"r":13.9,"diff":-12.1},{"r":14.0,"diff":-11.8},{"r":14.1,"diff":-12.2},{"r":14.2,"diff":-12.0},{"r":14.3,"diff":-11.9},{"r":14.4,"diff":-12.1},
      {"r":14.5,"diff":-11.9},{"r":14.6,"diff":-12.2},{"r":14.7,"diff":-11.8},{"r":14.8,"diff":-12.1},{"r":14.9,"diff":-11.9},{"r":15.0,"diff":-12.0},{"r":15.1,"diff":-11.7},{"r":15.2,"diff":-12.1},{"r":15.3,"diff":-11.8},{"r":15.4,"diff":-12.0},
      {"r":15.5,"diff":-11.9},{"r":15.6,"diff":-11.6},{"r":15.7,"diff":-12.0},{"r":15.8,"diff":-11.8},{"r":15.9,"diff":-12.1},{"r":16.0,"diff":-11.7},{"r":16.1,"diff":-12.0},{"r":16.2,"diff":-11.8},{"r":16.3,"diff":-12.2},{"r":16.4,"diff":-11.9},
      {"r":16.5,"diff":-12.1},{"r":16.6,"diff":-11.8},{"r":16.7,"diff":-12.0},{"r":16.8,"diff":-11.9},{"r":16.9,"diff":-12.2},{"r":17.0,"diff":-11.8},{"r":17.1,"diff":-12.0},{"r":17.2,"diff":-11.9},{"r":17.3,"diff":-12.1},{"r":17.4,"diff":-11.8},
      {"r":17.5,"diff":-12.0},{"r":17.6,"diff":-11.7},{"r":17.7,"diff":-11.9},{"r":17.8,"diff":-12.1},{"r":17.9,"diff":-11.8},{"r":18.0,"diff":-12.0},{"r":18.1,"diff":-11.9},{"r":18.2,"diff":-12.2},{"r":18.3,"diff":-11.8},{"r":18.4,"diff":-12.0},
      {"r":18.5,"diff":-12.1},{"r":18.6,"diff":-11.8},{"r":18.7,"diff":-12.0},{"r":18.8,"diff":-11.9},{"r":18.9,"diff":-12.2},{"r":19.0,"diff":-11.8},{"r":19.1,"diff":-12.0},{"r":19.2,"diff":-11.9},{"r":19.3,"diff":-12.1},{"r":19.4,"diff":-11.8},
      {"r":19.5,"diff":-12.0},{"r":19.6,"diff":-12.3},{"r":19.7,"diff":-11.9},{"r":19.8,"diff":-12.6},{"r":19.9,"diff":-11.9},{"r":20.0,"diff":-12.0}
    ]
  },
  "vconcat": [
    {
      "width": 438, "height": 230,
      "layer": [
        {
          "data": {"name": "sap"},
          "mark": {"type": "line", "color": "#7b7e80", "strokeWidth": 6.5, "interpolate": "monotone", "strokeCap": "round"},
          "encoding": {
            "x": {"field": "r", "type": "quantitative", "scale": {"domain": [0, 20], "nice": false}, "axis": {"orient": "top", "labels": false, "tickSize": -6, "values": [0, 5, 10, 15, 20], "title": "single-crystal sapphire", "titleX": 22, "titleY": 36, "titleAlign": "left", "titleBaseline": "alphabetic", "titleAngle": 0, "titleFontSize": 20}},
            "y": {"field": "obs", "type": "quantitative", "scale": {"domain": [-13.75, 19.8], "nice": false, "zero": false}, "axis": {"orient": "left", "values": [-10, 0, 10], "tickSize": -6, "labelPadding": 5, "title": null}}
          }
        },
        {
          "data": {"name": "sap"},
          "mark": {"type": "line", "color": "#e8462a", "strokeWidth": 1.6, "interpolate": "monotone"},
          "encoding": {
            "x": {"field": "r", "type": "quantitative", "axis": null},
            "y": {"field": "fit", "type": "quantitative", "axis": {"orient": "right", "values": [-10, 0, 10], "tickSize": -6, "labels": false, "title": null}}
          }
        },
        {
          "data": {"name": "sapdiff"},
          "mark": {"type": "line", "color": "#2948a8", "strokeWidth": 1.5, "interpolate": "monotone"},
          "encoding": {
            "x": {"field": "r", "type": "quantitative", "axis": null},
            "y": {"field": "diff", "type": "quantitative", "axis": null}
          }
        }
      ],
      "resolve": {"axis": {"y": "independent", "x": "independent"}}
    },
    {
      "width": 438, "height": 224,
      "layer": [
        {
          "data": {"name": "insitu"},
          "mark": {"type": "line", "color": "#7b7e80", "strokeWidth": 5.5, "interpolate": "monotone", "strokeCap": "round"},
          "encoding": {
            "x": {"field": "r", "type": "quantitative", "scale": {"domain": [0, 20], "nice": false}, "axis": {"orient": "top", "domain": false, "ticks": false, "labels": false, "title": "in situ vanadium", "titleX": 22, "titleY": 30, "titleAlign": "left", "titleBaseline": "alphabetic", "titleAngle": 0, "titleFontSize": 20}},
            "y": {"field": "obs", "type": "quantitative", "scale": {"domain": [-13.8, 18.8], "nice": false, "zero": false}, "axis": {"orient": "left", "values": [-10, 0, 10], "tickSize": -6, "labelPadding": 5, "title": "4πρ₀r{g(r)-1} / Å⁻²", "titleX": -43, "titleY": 102, "titleFontSize": 19}}
          }
        },
        {
          "data": {"name": "insitu"},
          "mark": {"type": "line", "color": "#e8462a", "strokeWidth": 1.6, "interpolate": "monotone"},
          "encoding": {
            "x": {"field": "r", "type": "quantitative", "axis": null},
            "y": {"field": "fit", "type": "quantitative", "axis": {"orient": "right", "values": [-10, 0, 10], "tickSize": -6, "labels": false, "title": null}}
          }
        },
        {
          "data": {"name": "insitudiff"},
          "mark": {"type": "line", "color": "#2948a8", "strokeWidth": 1.5},
          "encoding": {
            "x": {"field": "r", "type": "quantitative", "axis": null},
            "y": {"field": "diff", "type": "quantitative", "axis": null}
          }
        }
      ],
      "resolve": {"axis": {"y": "independent", "x": "independent"}}
    },
    {
      "width": 438, "height": 231,
      "layer": [
        {
          "data": {"name": "exsitu"},
          "mark": {"type": "line", "color": "#7b7e80", "strokeWidth": 5.5, "interpolate": "monotone", "strokeCap": "round"},
          "encoding": {
            "x": {"field": "r", "type": "quantitative", "scale": {"domain": [0, 20], "nice": false}, "axis": {"orient": "bottom", "values": [0, 5, 10, 15, 20], "tickSize": -6, "labelPadding": 9, "title": "r / Å", "titlePadding": 12}},
            "y": {"field": "obs", "type": "quantitative", "scale": {"domain": [-14.9, 18.7], "nice": false, "zero": false}, "axis": {"orient": "left", "values": [-10, 0, 10], "tickSize": -6, "labelPadding": 5, "title": null}}
          }
        },
        {
          "data": {"name": "exsitu"},
          "mark": {"type": "line", "color": "#e8462a", "strokeWidth": 1.6, "interpolate": "monotone"},
          "encoding": {
            "x": {"field": "r", "type": "quantitative", "axis": {"orient": "top", "domain": false, "ticks": false, "labels": false, "title": "ex situ vanadium", "titleX": 22, "titleY": 29, "titleAlign": "left", "titleBaseline": "alphabetic", "titleAngle": 0, "titleFontSize": 20}},
            "y": {"field": "fit", "type": "quantitative", "axis": {"orient": "right", "values": [-10, 0, 10], "tickSize": -6, "labels": false, "title": null}}
          }
        },
        {
          "data": {"name": "exsitudiff"},
          "mark": {"type": "line", "color": "#2948a8", "strokeWidth": 1.5},
          "encoding": {
            "x": {"field": "r", "type": "quantitative", "axis": null},
            "y": {"field": "diff", "type": "quantitative", "axis": null}
          }
        }
      ],
      "resolve": {"axis": {"y": "independent", "x": "independent"}}
    }
  ]
}
